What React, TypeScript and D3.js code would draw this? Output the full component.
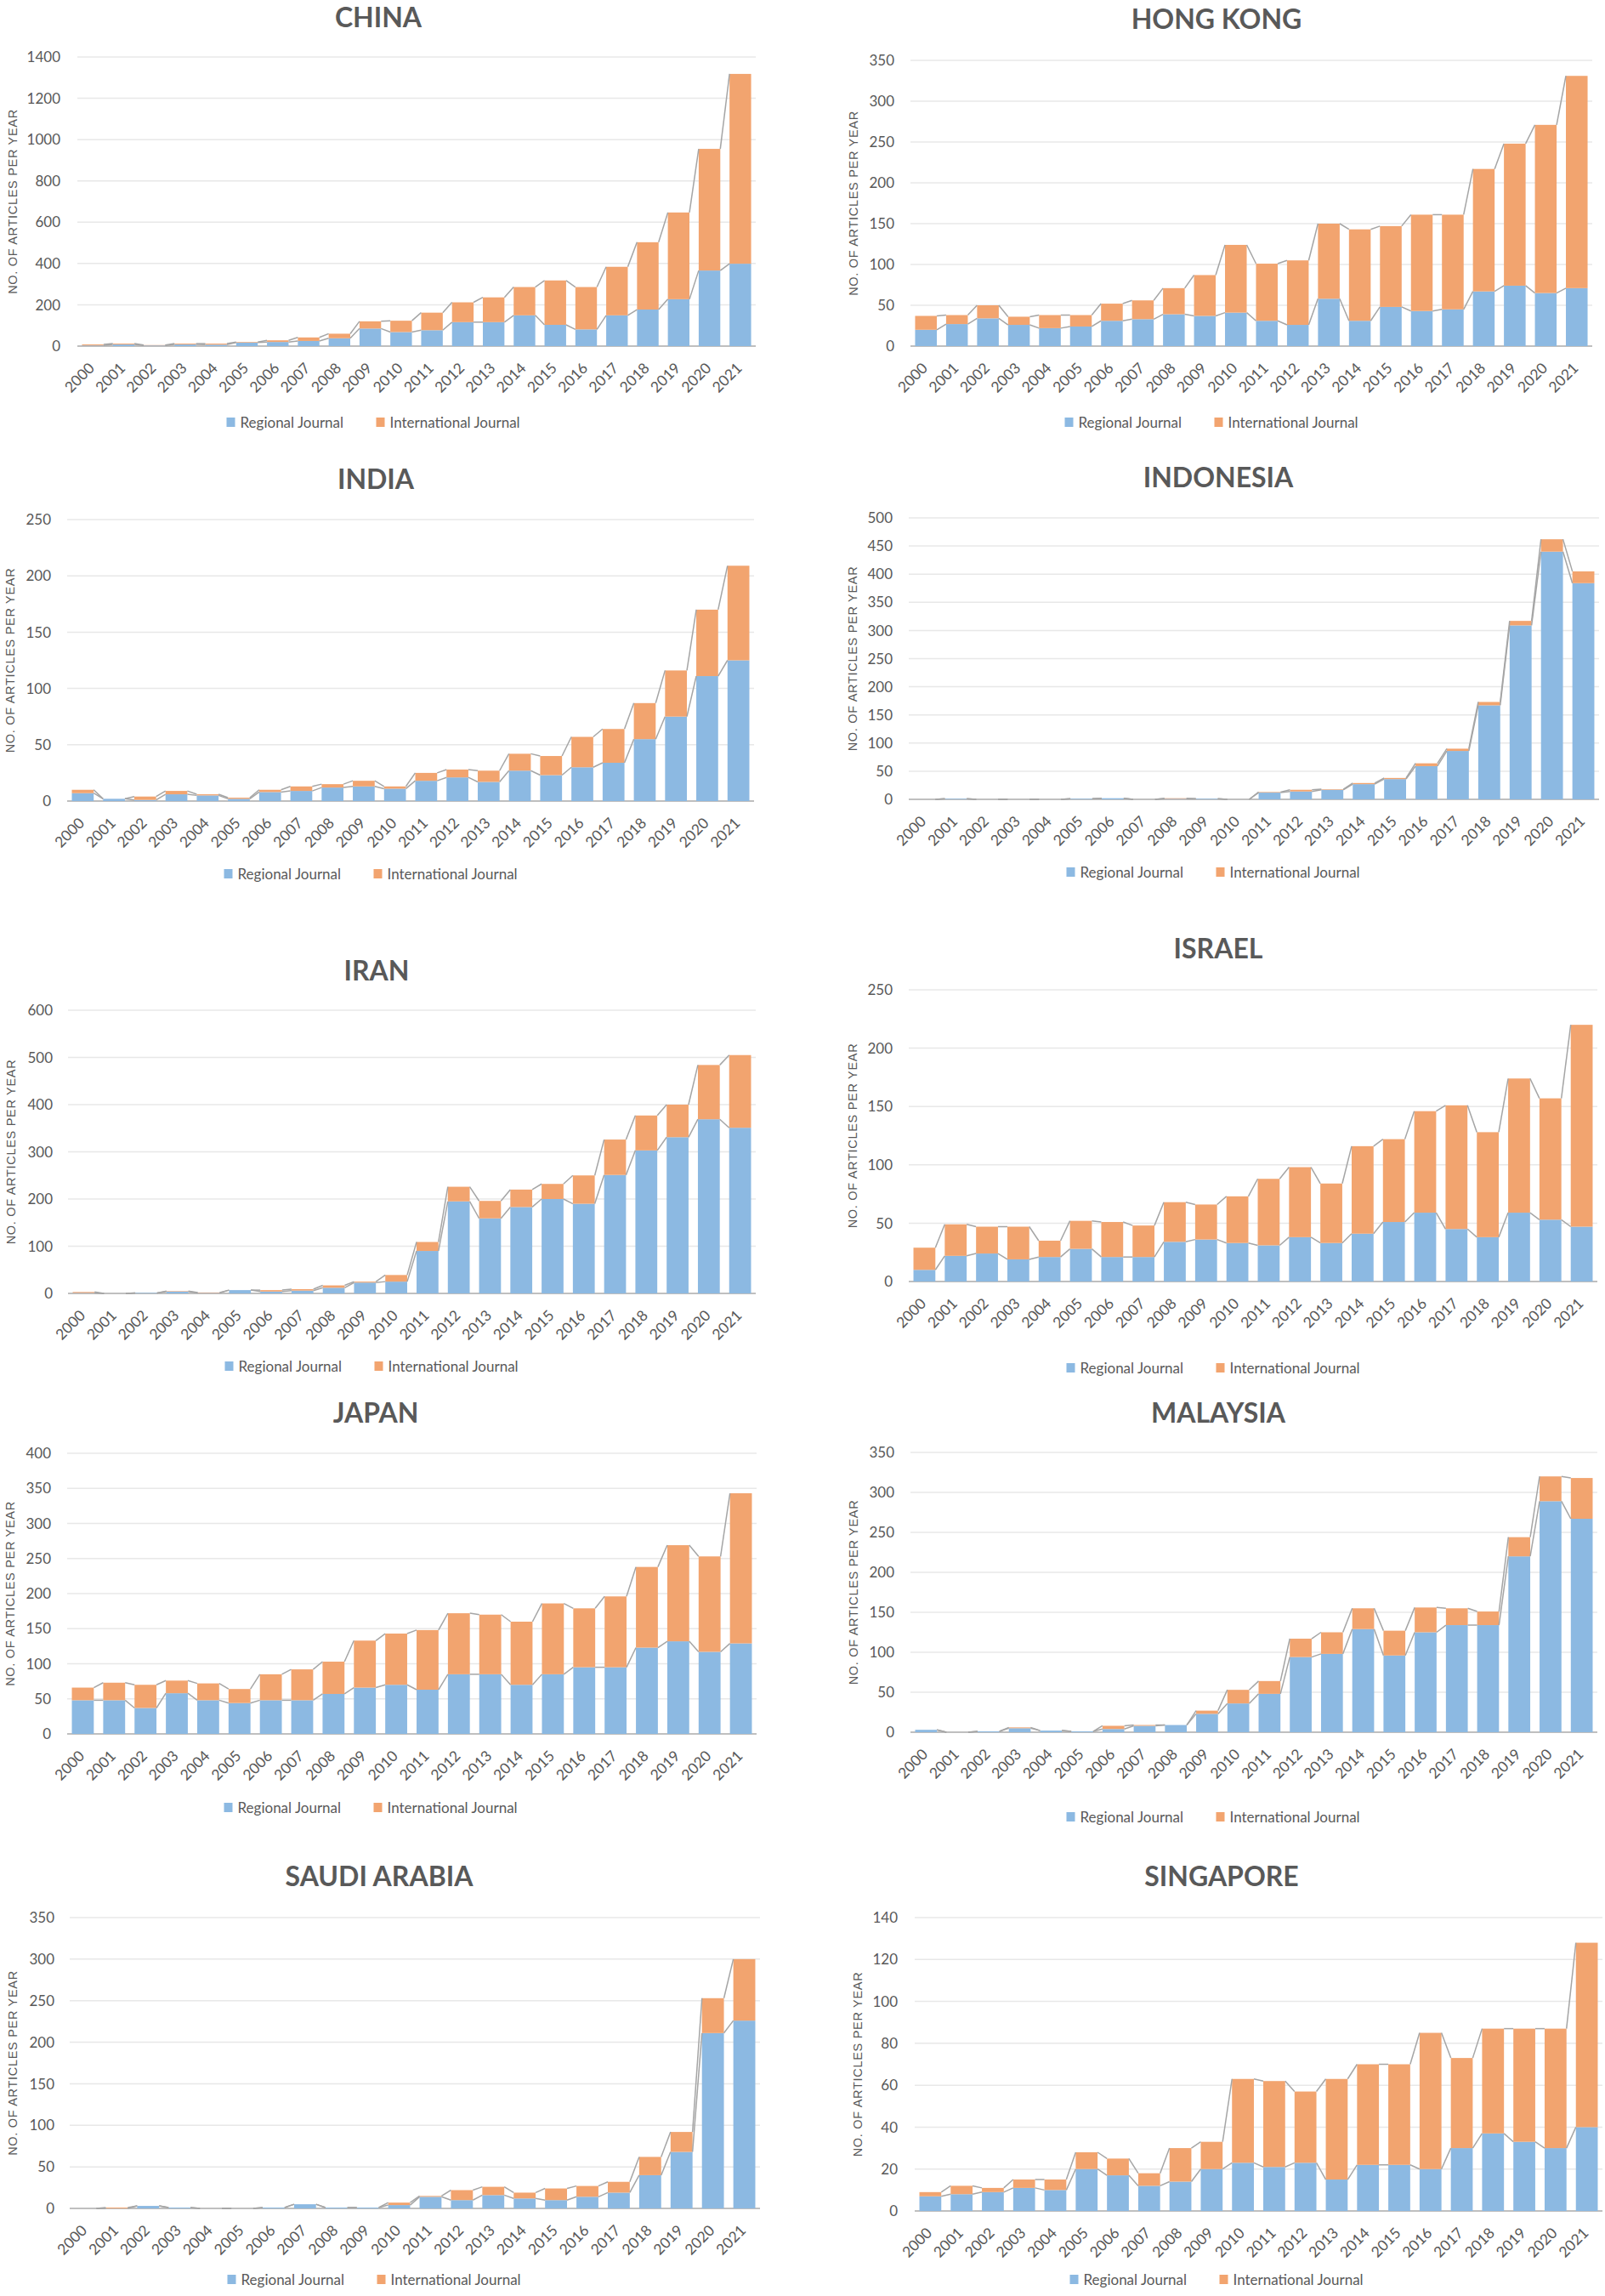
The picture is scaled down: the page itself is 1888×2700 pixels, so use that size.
import React from "react";
import * as d3 from "d3";

const YEARS = ["2000","2001","2002","2003","2004","2005","2006","2007","2008","2009","2010","2011","2012","2013","2014","2015","2016","2017","2018","2019","2020","2021"];
const SERIES_NAMES = ["Regional Journal", "International Journal"];
const Y_AXIS_TITLE = "NO. OF ARTICLES PER YEAR";

const CHINA_REGIONAL = [3,8,3,8,7,17,20,25,38,85,68,77,116,116,149,103,81,149,177,227,366,399];
const CHINA_INTERNATIONAL = [5,4,2,4,5,3,8,17,22,35,55,85,96,120,137,215,205,235,326,420,589,919];

const HK_REGIONAL = [20,27,34,26,22,24,31,33,39,37,41,31,26,58,31,48,43,45,67,74,65,71];
const HK_INTERNATIONAL = [17,11,16,10,16,14,21,23,32,50,83,70,79,92,112,99,118,116,150,174,206,260];

const INDIA_REGIONAL = [7,2,1,6,5,2,8,9,12,13,11,18,21,17,27,23,30,34,55,75,111,125];
const INDIA_INTERNATIONAL = [3,0,3,3,1,1,2,4,3,5,2,7,7,10,15,17,27,30,32,41,59,84];

const INDONESIA_REGIONAL = [0,1,0,0,0,1,2,0,1,1,0,12,14,17,27,36,59,86,167,309,440,384];
const INDONESIA_INTERNATIONAL = [0,0,0,0,0,0,0,0,1,0,0,1,3,1,2,2,5,4,6,8,22,21];

const IRAN_REGIONAL = [1,0,1,4,1,7,4,6,12,23,25,90,195,159,183,200,190,251,303,331,369,351];
const IRAN_INTERNATIONAL = [2,0,0,1,1,0,3,3,5,2,14,19,31,37,37,32,60,75,74,69,115,154];

const ISRAEL_REGIONAL = [10,22,24,19,21,28,21,21,34,36,33,31,38,33,41,51,59,45,38,59,53,47];
const ISRAEL_INTERNATIONAL = [19,27,23,28,14,24,30,27,34,30,40,57,60,51,75,71,87,106,90,115,104,173];

const JAPAN_REGIONAL = [48,48,37,58,48,44,48,48,57,66,70,63,85,85,70,85,95,95,123,132,117,129];
const JAPAN_INTERNATIONAL = [18,25,33,18,24,20,37,44,46,67,73,85,87,85,90,101,84,101,115,137,136,214];

const MALAYSIA_REGIONAL = [3,0,1,5,2,1,4,8,9,23,36,48,94,98,129,96,125,134,134,220,289,267];
const MALAYSIA_INTERNATIONAL = [0,0,0,1,0,0,4,1,0,4,17,16,23,27,26,31,31,21,17,24,31,51];

const SAUDI_REGIONAL = [0,0,3,1,0,0,1,5,1,1,4,14,10,16,12,10,14,19,40,68,211,226];
const SAUDI_INTERNATIONAL = [0,1,0,0,0,0,0,0,0,0,3,1,12,10,7,14,13,13,22,24,42,74];

const SINGAPORE_REGIONAL = [7,8,9,11,10,20,17,12,14,20,23,21,23,15,22,22,20,30,37,33,30,40];
const SINGAPORE_INTERNATIONAL = [2,4,2,4,5,8,8,6,16,13,40,41,34,48,48,48,65,43,50,54,57,88];

const COUNTRIES = ["CHINA","HONG KONG","INDIA","INDONESIA","IRAN","ISRAEL","JAPAN","MALAYSIA","SAUDI ARABIA","SINGAPORE"];
const REGIONAL = [CHINA_REGIONAL, HK_REGIONAL, INDIA_REGIONAL, INDONESIA_REGIONAL, IRAN_REGIONAL, ISRAEL_REGIONAL, JAPAN_REGIONAL, MALAYSIA_REGIONAL, SAUDI_REGIONAL, SINGAPORE_REGIONAL];
const INTERNATIONAL = [CHINA_INTERNATIONAL, HK_INTERNATIONAL, INDIA_INTERNATIONAL, INDONESIA_INTERNATIONAL, IRAN_INTERNATIONAL, ISRAEL_INTERNATIONAL, JAPAN_INTERNATIONAL, MALAYSIA_INTERNATIONAL, SAUDI_INTERNATIONAL, SINGAPORE_INTERNATIONAL];
const Y_MAX = [1400, 350, 250, 500, 600, 250, 400, 350, 350, 140];
const Y_STEP = [200, 50, 50, 50, 100, 50, 50, 50, 50, 20];

// layout (pixel geometry, kept separate from data)
const LAYOUT = [
  { l: 91, r: 889, t: 67, b: 407, tx: 445, ty: 32, ly: 497, tr: 71, yt: 15 },
  { l: 1071, r: 1873, t: 71, b: 407, tx: 1431, ty: 34, ly: 497, tr: 1052, yt: 1004 },
  { l: 79, r: 887, t: 611, b: 942, tx: 442, ty: 575, ly: 1028, tr: 60, yt: 12 },
  { l: 1069, r: 1881, t: 609, b: 940, tx: 1433, ty: 573, ly: 1026, tr: 1050, yt: 1003 },
  { l: 80, r: 889, t: 1188, b: 1521, tx: 443, ty: 1153, ly: 1607, tr: 62, yt: 13 },
  { l: 1069, r: 1879, t: 1164, b: 1507, tx: 1433, ty: 1127, ly: 1609, tr: 1050, yt: 1003 },
  { l: 79, r: 890, t: 1709, b: 2039, tx: 442, ty: 1673, ly: 2126, tr: 60, yt: 12 },
  { l: 1071, r: 1879, t: 1708, b: 2037, tx: 1433, ty: 1673, ly: 2137, tr: 1052, yt: 1004 },
  { l: 82, r: 894, t: 2255, b: 2597, tx: 446, ty: 2218, ly: 2681, tr: 64, yt: 15 },
  { l: 1076, r: 1885, t: 2255, b: 2600, tx: 1437, ty: 2218, ly: 2681, tr: 1056, yt: 1009 },
];

const BLUE = "#8cb9e2";
const ORANGE = "#f2a46f";
const TEXT = "#595959";
const FONT = "Lato, 'Open Sans', sans-serif";

function Panel({ idx }: { idx: number }) {
  const L = LAYOUT[idx];
  const reg = REGIONAL[idx];
  const intl = INTERNATIONAL[idx];
  const x = d3.scaleBand<string>().domain(YEARS).range([L.l, L.r]).paddingInner(0.3).paddingOuter(0.15);
  const y = d3.scaleLinear().domain([0, Y_MAX[idx]]).range([L.b, L.t]);
  const ticks = d3.range(0, Y_MAX[idx] + 0.001, Y_STEP[idx]);
  const rows = YEARS.map((yr, i) => ({ year: yr, r: reg[i], n: intl[i] }));
  const stack = d3.stack<any>().keys(["r", "n"])(rows);
  const bw = x.bandwidth();

  const seriesLines: JSX.Element[] = [];
  stack.forEach((layer, k) => {
    for (let i = 0; i < layer.length - 1; i++) {
      const x1 = (x(YEARS[i]) as number) + bw;
      const x2 = x(YEARS[i + 1]) as number;
      seriesLines.push(
        <line key={`sl${k}-${i}`} x1={x1} x2={x2} y1={y(layer[i][1])} y2={y(layer[i + 1][1])}
          stroke="#a5a5a5" strokeWidth={1.5} />
      );
    }
  });

  const legendItems = [
    { name: SERIES_NAMES[0], color: BLUE, w: 130 },
    { name: SERIES_NAMES[1], color: ORANGE, w: 165 },
  ];
  const gap = 30;
  const totalW = legendItems.reduce((s, it) => s + 16 + it.w, 0) + gap;
  let lx = L.tx - totalW / 2;

  return (
    <g>
      <text x={L.tx} y={L.ty} textAnchor="middle" fontFamily={FONT} fontWeight={700} fontSize={32} fill={TEXT}>
        {COUNTRIES[idx]}
      </text>
      {ticks.map((t) => (
        <g key={t}>
          <line x1={L.l} x2={L.r} y1={y(t)} y2={y(t)} stroke={t === 0 ? "#bfbfbf" : "#e8e8e8"} strokeWidth={t === 0 ? 2 : 1.5} />
          <text x={L.tr} y={y(t)} dy="0.36em" textAnchor="end" fontFamily={FONT} fontSize={17} fill={TEXT}>{t}</text>
        </g>
      ))}
      <text transform={`translate(${L.yt},${(L.t + L.b) / 2}) rotate(-90)`} textAnchor="middle" dy="0.36em"
        fontFamily="'Liberation Sans', Arial, sans-serif" fontSize={14.5} letterSpacing={0.7} fill={TEXT}>
        {Y_AXIS_TITLE}
      </text>
      {stack.map((layer, k) => (
        <g key={k} fill={k === 0 ? BLUE : ORANGE}>
          {layer.map((d, i) => (
            <rect key={i} x={x(YEARS[i])} width={bw} y={y(d[1])} height={Math.max(0, y(d[0]) - y(d[1]))} />
          ))}
        </g>
      ))}
      {seriesLines}
      {YEARS.map((yr) => {
        const cx = (x(yr) as number) + bw / 2 + 3;
        const cy = L.b + 27;
        return (
          <text key={yr} transform={`translate(${cx},${cy}) rotate(-45)`} textAnchor="end" fontFamily={FONT} fontSize={17.5} fill={TEXT}>{yr}</text>
        );
      })}
      {legendItems.map((it) => {
        const sx = lx;
        lx += 16 + it.w + gap;
        return (
          <g key={it.name}>
            <rect x={sx} y={L.ly - 6} width={10} height={11} fill={it.color} />
            <text x={sx + 16} y={L.ly} dy="0.36em" fontFamily={FONT} fontSize={17} fill={TEXT}>{it.name}</text>
          </g>
        );
      })}
    </g>
  );
}

export default function App() {
  return (
    <svg width={1888} height={2700} style={{ position: "absolute", left: 0, top: 0, background: "#fff" }}>
      <rect width={1888} height={2700} fill="#fff" />
      {COUNTRIES.map((c, i) => <Panel key={c} idx={i} />)}
    </svg>
  );
}
